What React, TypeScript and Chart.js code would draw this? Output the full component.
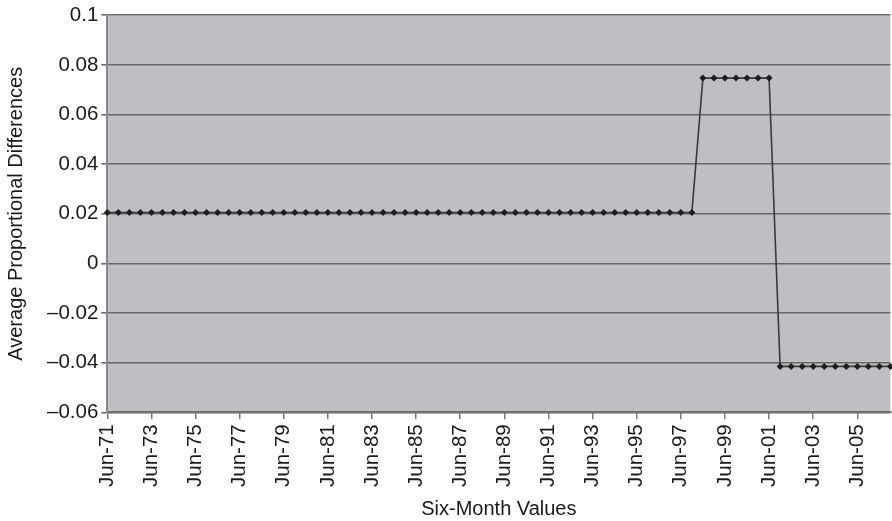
import React, { useEffect, useRef } from "react";
import { Chart, registerables } from "chart.js";

Chart.register(...registerables);

const categories: string[] = [
  "Jun-71", "Dec-71", "Jun-72", "Dec-72", "Jun-73", "Dec-73", "Jun-74", "Dec-74",
  "Jun-75", "Dec-75", "Jun-76", "Dec-76", "Jun-77", "Dec-77", "Jun-78", "Dec-78",
  "Jun-79", "Dec-79", "Jun-80", "Dec-80", "Jun-81", "Dec-81", "Jun-82", "Dec-82",
  "Jun-83", "Dec-83", "Jun-84", "Dec-84", "Jun-85", "Dec-85", "Jun-86", "Dec-86",
  "Jun-87", "Dec-87", "Jun-88", "Dec-88", "Jun-89", "Dec-89", "Jun-90", "Dec-90",
  "Jun-91", "Dec-91", "Jun-92", "Dec-92", "Jun-93", "Dec-93", "Jun-94", "Dec-94",
  "Jun-95", "Dec-95", "Jun-96", "Dec-96", "Jun-97", "Dec-97", "Jun-98", "Dec-98",
  "Jun-99", "Dec-99", "Jun-00", "Dec-00", "Jun-01", "Dec-01", "Jun-02", "Dec-02",
  "Jun-03", "Dec-03", "Jun-04", "Dec-04", "Jun-05", "Dec-05", "Jun-06", "Dec-06",
];

const values: number[] = [
  0.0205, 0.0205, 0.0205, 0.0205, 0.0205, 0.0205, 0.0205, 0.0205, 0.0205,
  0.0205, 0.0205, 0.0205, 0.0205, 0.0205, 0.0205, 0.0205, 0.0205, 0.0205,
  0.0205, 0.0205, 0.0205, 0.0205, 0.0205, 0.0205, 0.0205, 0.0205, 0.0205,
  0.0205, 0.0205, 0.0205, 0.0205, 0.0205, 0.0205, 0.0205, 0.0205, 0.0205,
  0.0205, 0.0205, 0.0205, 0.0205, 0.0205, 0.0205, 0.0205, 0.0205, 0.0205,
  0.0205, 0.0205, 0.0205, 0.0205, 0.0205, 0.0205, 0.0205, 0.0205, 0.0205,
  0.0747, 0.0747, 0.0747, 0.0747, 0.0747, 0.0747, 0.0747,
  -0.0415, -0.0415, -0.0415, -0.0415, -0.0415, -0.0415, -0.0415, -0.0415,
  -0.0415, -0.0415, -0.0415,
];

const yMin = -0.06;
const yMax = 0.1;
const yStep = 0.02;
const labelEvery = 4;

const xTitle = "Six-Month Values";
const yTitle = "Average Proportional Differences";

const FONT = '"Liberation Sans", Arial, Helvetica, sans-serif';

const plotBg = {
  id: "plotBg",
  beforeDraw(chart: any) {
    const { ctx, chartArea } = chart;
    if (!chartArea) return;
    ctx.save();
    ctx.fillStyle = "#bfbfc3";
    ctx.fillRect(chartArea.left, chartArea.top, chartArea.right - chartArea.left, chartArea.bottom - chartArea.top);
    ctx.restore();
  },
};

function fmt(v: number): string {
  const r = Math.round(v * 100) / 100;
  if (r === 0) return "0";
  const s = String(Math.abs(r));
  return r < 0 ? "\u2013" + s : s;
}

export default function App() {
  const ref = useRef<HTMLCanvasElement | null>(null);

  useEffect(() => {
    if (!ref.current) return;
    const chart = new Chart(ref.current, {
      type: "line",
      data: {
        labels: categories,
        datasets: [
          {
            data: values,
            borderColor: "#3a3a3a",
            borderWidth: 1.6,
            pointStyle: "rectRot",
            pointRadius: 3.5,
            pointBackgroundColor: "#1e1e1e",
            pointBorderColor: "#1e1e1e",
            pointBorderWidth: 0,
            tension: 0,
            clip: false as any,
          },
        ],
      },
      options: {
        responsive: false,
        animation: false,
        layout: { padding: { top: 5, left: 4, right: 0, bottom: 0 } },
        plugins: {
          legend: { display: false },
          tooltip: { enabled: false },
        },
        scales: {
          x: {
            type: "category",
            offset: false,
            grid: {
              display: true,
              drawOnChartArea: false,
              drawTicks: true,
              tickLength: 7,
              lineWidth: 1.5,
              color: (c: any) => (c.index % labelEvery === 0 ? "#7a7a7a" : "rgba(0,0,0,0)"),
            },
            border: { display: true, color: "#6e6e6e", width: 2 },
            ticks: {
              autoSkip: false,
              maxRotation: 90,
              minRotation: 90,
              padding: 5,
              color: "#1a1a1a",
              font: { family: FONT, size: 20.5 },
              callback: (_v: any, i: number) => (i % labelEvery === 0 ? categories[i] : ""),
            },
            title: {
              display: true,
              text: xTitle,
              color: "#1a1a1a",
              font: { family: FONT, size: 20 },
              padding: { top: 5, bottom: 0 },
            },
          },
          y: {
            min: yMin,
            max: yMax,
            grid: {
              color: "#686868",
              lineWidth: 1.6,
              tickLength: 6,
            },
            border: { display: true, color: "#8a8a8a", width: 2 },
            ticks: {
              stepSize: yStep,
              padding: 3,
              color: "#1a1a1a",
              font: { family: FONT, size: 20.5 },
              callback: (v: any) => fmt(Number(v)),
            },
            title: {
              display: true,
              text: yTitle,
              color: "#1a1a1a",
              font: { family: FONT, size: 20 },
              padding: { top: 0, bottom: 16 },
            },
          },
        },
      },
      plugins: [plotBg],
    });
    return () => chart.destroy();
  }, []);

  return (
    <div style={{ position: "fixed", left: 0, top: 0, width: 892, height: 521, overflow: "hidden", background: "#fff" }}>
      <canvas ref={ref} width={920} height={521} style={{ display: "block", width: 920, height: 521 }} />
    </div>
  );
}
